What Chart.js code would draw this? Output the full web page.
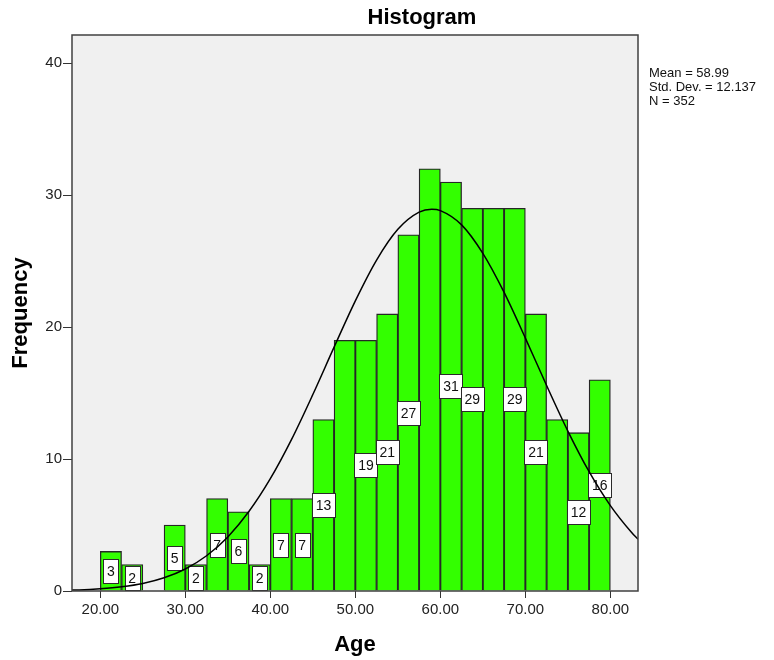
<!DOCTYPE html>
<html>
<head>
<meta charset="utf-8">
<script src="https://cdn.jsdelivr.net/npm/chart.js@4/dist/chart.umd.min.js"></script>
<style>
  body { margin: 0; background: #fff; }
  #wrap { width: 774px; height: 660px; }
</style>
</head>
<body>
<div id="wrap"><canvas id="histChart" width="774" height="660"></canvas></div>
<script>
// bin centres (width 2.5) and counts
const binCenters = [21.25, 23.75, 26.25, 28.75, 31.25, 33.75, 36.25, 38.75, 41.25, 43.75, 46.25, 48.75,
  51.25, 53.75, 56.25, 58.75, 61.25, 63.75, 66.25, 68.75, 71.25, 73.75, 76.25, 78.75];
const counts = [3, 2, 0, 5, 2, 7, 6, 2, 7, 7, 13, 19, 19, 21, 27, 32, 31, 29, 29, 29, 21, 13, 12, 16];
// which bars carry a value box (SPSS leaves some out)
const showLabel = [1, 1, 0, 1, 1, 1, 1, 1, 1, 1, 1, 0, 1, 1, 1, 0, 1, 1, 0, 1, 1, 0, 1, 1];

// normal curve
const curveX = [16.67, 17.5, 20, 22.5, 25, 27.5, 30, 32.5, 35, 37.5, 40, 42.5, 45, 47.5, 50, 52.5, 55, 57.5,
  58.99, 60, 62.5, 65, 67.5, 70, 72.5, 75, 77.5, 80, 82.5, 83.25];
const curveY = [0.07, 0.08, 0.17, 0.32, 0.57, 1.0, 1.67, 2.67, 4.1, 6.04, 8.51, 11.49, 14.89, 18.48, 21.99, 25.08,
  27.41, 28.71, 28.93, 28.83, 27.75, 25.59, 22.63, 19.17, 15.57, 12.12, 9.04, 6.47, 4.43, 3.92];

const xTicks = [20, 30, 40, 50, 60, 70, 80];
const yTicks = [0, 10, 20, 30, 40];
const statLines = ["Mean = 58.99", "Std. Dev. = 12.137", "N = 352"];

const FONT = "'Liberation Sans', Arial, sans-serif";

const framePlugin = {
  id: "frame",
  beforeDatasetsDraw(chart) {
    const { ctx, chartArea: a } = chart;
    ctx.save();
    ctx.fillStyle = "#f0f0f0";
    ctx.fillRect(a.left, a.top, a.right - a.left, a.bottom - a.top);
    ctx.restore();
  },
  afterDatasetDraw(chart, args) {
    if (args.index !== 0) return;
    // value boxes on the bars, drawn under the curve
    const { ctx } = chart;
    const meta = chart.getDatasetMeta(0);
    ctx.save();
    ctx.font = "14px " + FONT;
    ctx.textAlign = "center";
    ctx.textBaseline = "middle";
    meta.data.forEach((bar, i) => {
      if (!showLabel[i]) return;
      const txt = String(counts[i]);
      const w = Math.round(ctx.measureText(txt).width + 7);
      const h = 24;
      const x0 = Math.round(bar.x - w / 2) + 0.5;
      const y0 = Math.round((bar.y + bar.base) / 2 - h / 2) + 0.5;
      ctx.fillStyle = "#fff";
      ctx.fillRect(x0, y0, w, h);
      ctx.strokeStyle = "#2a2a2a";
      ctx.lineWidth = 1;
      ctx.strokeRect(x0, y0, w, h);
      ctx.fillStyle = "#111";
      ctx.fillText(txt, bar.x, y0 + h / 2 + 1);
    });
    ctx.restore();
  },
  afterDraw(chart) {
    const { ctx, chartArea: a } = chart;
    ctx.save();
    ctx.strokeStyle = "#404040";
    ctx.lineWidth = 1.5;
    ctx.strokeRect(a.left, a.top, a.right - a.left, a.bottom - a.top);
    // title
    ctx.fillStyle = "#000";
    ctx.font = "bold 22px " + FONT;
    ctx.textAlign = "center";
    ctx.textBaseline = "middle";
    ctx.fillText("Histogram", 422, 18);
    // stats text
    ctx.font = "13px " + FONT;
    ctx.textAlign = "left";
    ctx.fillStyle = "#111";
    statLines.forEach((s, i) => ctx.fillText(s, 649, 73 + i * 14));
    ctx.restore();
  }
};

new Chart(document.getElementById("histChart"), {
  type: "bar",
  data: {
    datasets: [
      {
        type: "bar",
        data: binCenters.map((x, i) => ({ x: x, y: counts[i] })),
        backgroundColor: "#33ff00",
        borderColor: "#262626",
        borderWidth: 1.3,
        borderSkipped: "start",
        barPercentage: 1,
        categoryPercentage: 1,
        order: 1
      },
      {
        type: "line",
        data: curveX.map((x, i) => ({ x: x, y: curveY[i] })),
        borderColor: "#000",
        borderWidth: 1.5,
        pointRadius: 0,
        cubicInterpolationMode: "monotone",
        fill: false,
        order: 0
      }
    ]
  },
  options: {
    responsive: false,
    animation: false,
    layout: { padding: { left: 0, right: 136, top: 35, bottom: 0 } },
    plugins: { legend: { display: false }, tooltip: { enabled: false } },
    scales: {
      x: {
        type: "linear",
        min: 16.67,
        max: 83.25,
        offset: false,
        afterBuildTicks: s => { s.ticks = xTicks.map(v => ({ value: v })); },
        afterFit: s => { s.height = 69; },
        grid: { offset: false, drawOnChartArea: false, tickLength: 7, color: "#333", lineWidth: 1 },
        border: { display: false },
        ticks: {
          color: "#222",
          font: { family: FONT, size: 15 },
          padding: 3,
          maxRotation: 0,
          callback: v => Number(v).toFixed(2)
        },
        title: {
          display: true,
          text: "Age",
          color: "#000",
          font: { family: FONT, size: 22, weight: "bold" },
          padding: { top: 0, bottom: 2 }
        }
      },
      y: {
        min: 0,
        max: 42.14,
        afterBuildTicks: s => { s.ticks = yTicks.map(v => ({ value: v })); },
        afterFit: s => { s.width = 72; },
        grid: { drawOnChartArea: false, tickLength: 9, color: "#333", lineWidth: 1 },
        border: { display: false },
        ticks: {
          color: "#222",
          font: { family: FONT, size: 15 },
          padding: 1
        },
        title: {
          display: true,
          text: "Frequency",
          color: "#000",
          font: { family: FONT, size: 22, weight: "bold" },
          padding: { top: 8, bottom: 0 }
        }
      }
    }
  },
  plugins: [framePlugin]
});
</script>
</body>
</html>
